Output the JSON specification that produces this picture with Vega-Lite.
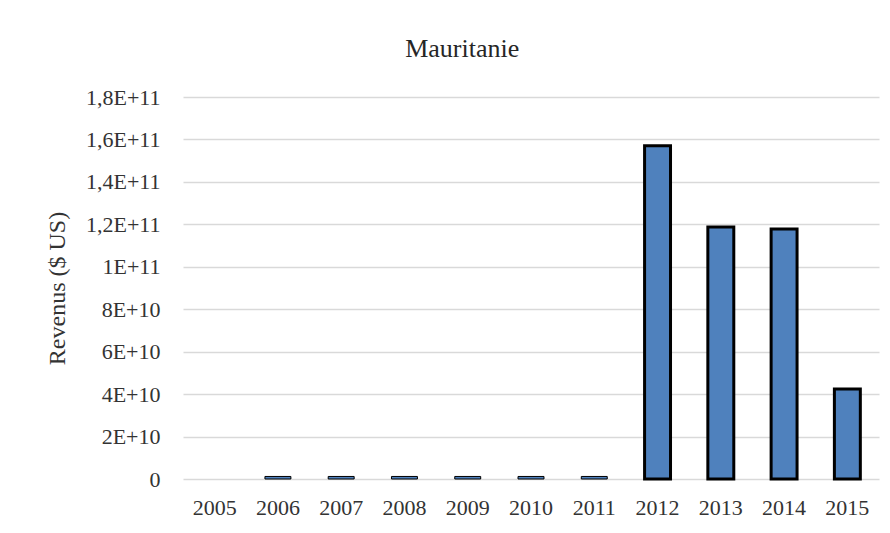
{
  "$schema": "https://vega.github.io/schema/vega-lite/v6.json",
  "autosize": {"type": "none"},
  "width": 696,
  "height": 382,
  "padding": {"left": 183, "top": 97, "right": 11, "bottom": 54},
  "background": "white",
  "title": {
    "text": "Mauritanie",
    "font": "Liberation Serif, DejaVu Serif, serif",
    "fontSize": 26,
    "fontWeight": "normal",
    "color": "#262626",
    "anchor": "middle",
    "frame": "bounds",
    "offset": 24
  },
  "data": {
    "values": [
      {"year": "2005", "revenue": null},
      {"year": "2006", "revenue": 1200000000},
      {"year": "2007", "revenue": 1200000000},
      {"year": "2008", "revenue": 1200000000},
      {"year": "2009", "revenue": 1200000000},
      {"year": "2010", "revenue": 1200000000},
      {"year": "2011", "revenue": 1200000000},
      {"year": "2012", "revenue": 157000000000},
      {"year": "2013", "revenue": 118800000000},
      {"year": "2014", "revenue": 117800000000},
      {"year": "2015", "revenue": 42400000000}
    ]
  },
  "mark": {"type": "bar", "fill": "#4F81BD", "stroke": "black"},
  "encoding": {
    "x": {
      "field": "year",
      "type": "nominal",
      "sort": null,
      "scale": {"domain": ["2005","2006","2007","2008","2009","2010","2011","2012","2013","2014","2015"], "paddingInner": 0.59, "paddingOuter": 0.295},
      "axis": {
        "title": null,
        "labelAngle": 0,
        "labelFont": "Liberation Serif, DejaVu Serif, serif",
        "labelFontSize": 22,
        "labelColor": "#333333",
        "labelPadding": 18,
        "ticks": false,
        "domain": false,
        "grid": false
      }
    },
    "y": {
      "field": "revenue",
      "type": "quantitative",
      "scale": {"domain": [0, 180000000000], "nice": false},
      "axis": {
        "title": "Revenus ($ US)",
        "titleFont": "Liberation Serif, DejaVu Serif, serif",
        "titleFontSize": 24,
        "titleFontWeight": "normal",
        "titleColor": "#333333",
        "titlePadding": 16,
        "values": [0, 20000000000, 40000000000, 60000000000, 80000000000, 100000000000, 120000000000, 140000000000, 160000000000, 180000000000],
        "labelExpr": "datum.value == 0 ? '0' : replace(upper(format(datum.value, '~e')), '.', ',')",
        "labelFont": "Liberation Serif, DejaVu Serif, serif",
        "labelFontSize": 22,
        "labelColor": "#333333",
        "labelPadding": 23,
        "ticks": false,
        "domain": false,
        "grid": true,
        "gridColor": "#d9d9d9",
        "gridWidth": 1.5
      }
    },
    "strokeWidth": {
      "condition": {"test": "datum.revenue < 10000000000", "value": 1},
      "value": 3
    }
  },
  "config": {"view": {"stroke": null}}
}
